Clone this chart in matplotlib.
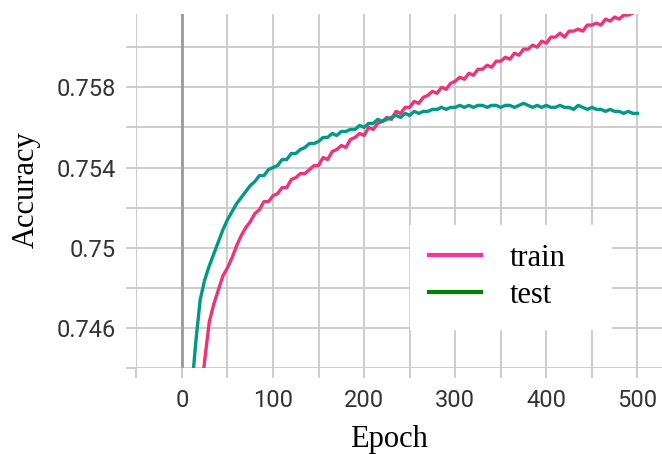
import numpy as np
import matplotlib.pyplot as plt
from matplotlib.lines import Line2D

train_epoch = list(range(15, 501, 5))
train_acc = [
    0.7405, 0.7422, 0.7444, 0.7463, 0.7472, 0.7479, 0.7486, 0.7490, 0.7495, 0.7501,
    0.7506, 0.7510, 0.7513, 0.7517, 0.7519, 0.7523, 0.7523, 0.7526, 0.7527, 0.7530,
    0.7530, 0.7534, 0.7535, 0.7537, 0.7537, 0.7539, 0.7541, 0.7541, 0.7545, 0.7544,
    0.7548, 0.7549, 0.7551, 0.7550, 0.7554, 0.7555, 0.7557, 0.7556, 0.7560, 0.7559,
    0.7562, 0.7563, 0.7565, 0.7564, 0.7568, 0.7567, 0.7570, 0.7570, 0.7573, 0.7572,
    0.7575, 0.7576, 0.7578, 0.7577, 0.7580, 0.7579, 0.7582, 0.7583, 0.7585, 0.7584,
    0.7587, 0.7586, 0.7589, 0.7589, 0.7591, 0.7590, 0.7593, 0.7593, 0.7595, 0.7594,
    0.7597, 0.7596, 0.7599, 0.7599, 0.7601, 0.7600, 0.7603, 0.7602, 0.7605, 0.7605,
    0.7607, 0.7605, 0.7608, 0.7608, 0.7609, 0.7608, 0.7611, 0.7611, 0.7612, 0.7611,
    0.7614, 0.7613, 0.7615, 0.7614, 0.7616, 0.7616, 0.7617, 0.7618,
]

test_epoch = list(range(5, 501, 5))
test_acc = [
    0.7410, 0.7425, 0.7452, 0.7474, 0.7484, 0.7491, 0.7497, 0.7503, 0.7509, 0.7514,
    0.7518, 0.7522, 0.7525, 0.7528, 0.7531, 0.7533, 0.7536, 0.7536, 0.7539, 0.7540,
    0.7541, 0.7544, 0.7544, 0.7547, 0.7547, 0.7549, 0.7550, 0.7552, 0.7552, 0.7553,
    0.7555, 0.7555, 0.7557, 0.7556, 0.7558, 0.7558, 0.7559, 0.7559, 0.7561, 0.7560,
    0.7562, 0.7562, 0.7564, 0.7563, 0.7564, 0.7565, 0.7566, 0.7565, 0.7567, 0.7566,
    0.7568, 0.7567, 0.7568, 0.7568, 0.7569, 0.7569, 0.7570, 0.7569, 0.7570, 0.7570,
    0.7571, 0.7570, 0.7571, 0.7570, 0.7571, 0.7571, 0.7570, 0.7571, 0.7571, 0.7570,
    0.7571, 0.7571, 0.7570, 0.7571, 0.7572, 0.7571, 0.7570, 0.7571, 0.7570, 0.7571,
    0.7570, 0.7570, 0.7571, 0.7570, 0.7570, 0.7569, 0.7571, 0.7570, 0.7569, 0.7570,
    0.7569, 0.7569, 0.7568, 0.7569, 0.7568, 0.7568, 0.7567, 0.7568, 0.7567, 0.7567,
]

x_major = [0, 100, 200, 300, 400, 500]
x_minor = [-50, 50, 150, 250, 350, 450]
y_major = [0.746, 0.750, 0.754, 0.758]
y_major_labels = ["0.746", "0.75", "0.754", "0.758"]
y_minor = [0.744, 0.748, 0.752, 0.756, 0.760]

GRID = "#cccccc"

fig = plt.figure(figsize=(6.62, 4.54), dpi=100)
ax = fig.add_axes([0.206, 0.189, 0.794, 0.780])

ax.plot(train_epoch, train_acc, color="#ee3377", lw=2.4, zorder=3)
ax.plot(test_epoch, test_acc, color="#009988", lw=2.4, zorder=3)
ax.axvline(0, color="#9a9a9a", lw=2, zorder=2)

ax.set_xlim(-50, 527)
ax.set_ylim(0.744, 0.76165)

ax.set_xticks(x_major)
ax.set_xticks(x_minor, minor=True)
ax.set_yticks(y_major)
ax.set_yticklabels(y_major_labels)
ax.set_yticks(y_minor, minor=True)

ax.grid(which="both", color=GRID, lw=1.4, zorder=1)
ax.set_axisbelow(True)
for s in ax.spines.values():
    s.set_visible(False)

ax.tick_params(which="both", length=7, width=1.4, color=GRID)
ax.tick_params(which="major", labelsize=17, labelcolor="#333333", pad=8)
for lab in ax.get_xticklabels() + ax.get_yticklabels():
    lab.set_fontfamily("Roboto")

ax.set_xlabel("Epoch", fontsize=22, fontfamily="Liberation Serif")
ax.xaxis.label.set_va("baseline")
ax.xaxis.set_label_coords(0.4806, -0.2221)
ax.set_ylabel("Accuracy", fontsize=22, fontfamily="Liberation Serif")
ax.yaxis.label.set_va("baseline")
ax.yaxis.set_label_coords(-0.1958, 0.505)

handles = [Line2D([], [], color="#ff3399", lw=3),
           Line2D([], [], color="green", lw=3)]
leg = ax.legend(handles, ["train", "test"], loc="upper left",
                bbox_to_anchor=(0.5205, 0.1137, 0.3824, 0.2908), mode="expand",
                prop={"family": "Liberation Serif", "size": 22},
                frameon=True, fancybox=False, framealpha=1, edgecolor="white",
                handlelength=1.7, handletextpad=0.95, labelspacing=0.27,
                borderpad=0.62, borderaxespad=0)
leg.set_zorder(5)

fig.savefig("out.png", dpi=100)
